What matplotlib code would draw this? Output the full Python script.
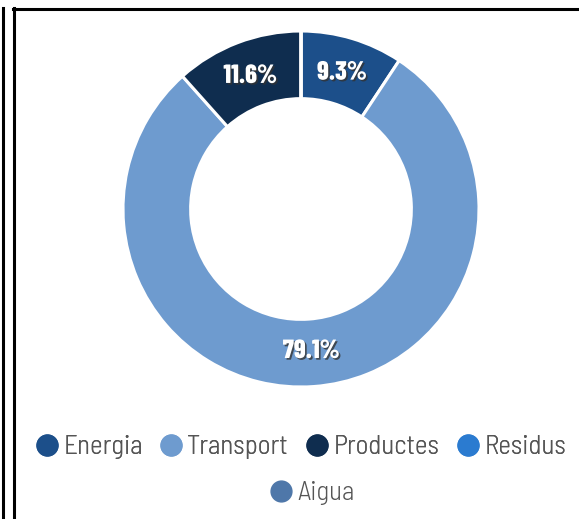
import matplotlib.pyplot as plt
import matplotlib.patheffects as pe
from matplotlib.lines import Line2D

categories = ["Energia", "Transport", "Productes", "Residus", "Aigua"]
values = [9.3, 79.1, 11.6, 0.0, 0.0]
colors = ["#1c4f8a", "#6e9bcf", "#0f2d4f", "#2b7bd0", "#4e77a9"]

W, H = 579, 519
fig = plt.figure(figsize=(W / 100, H / 100), dpi=100)


def fx(px):
    return px / W


def fy(py):
    return 1 - py / H


# frame lines like the screenshot
fig.add_artist(Line2D([fx(2.5), fx(2.5)], [fy(8), fy(519)], color="black", lw=2.2))
fig.add_artist(Line2D([fx(14), fx(14)], [fy(8), fy(519)], color="black", lw=2.2))
fig.add_artist(Line2D([fx(13), fx(579)], [fy(9), fy(9)], color="black", lw=2.2))

# donut
cx, cy, R = 301, 209, 178
ax = fig.add_axes([fx(cx - R), fy(cy + R), 2 * R / W, 2 * R / H])
label_fx = [pe.withSimplePatchShadow(offset=(1.2, -1.2), shadow_rgbFace="#333333", alpha=0.8)]


def fmt(p):
    return f"{p:.1f}%" if p > 0.05 else ""


wedges, texts, autotexts = ax.pie(
    values, colors=colors, startangle=90, counterclock=False,
    radius=1, autopct=fmt, pctdistance=0.8,
    wedgeprops=dict(width=0.38, edgecolor="white", linewidth=2.2),
    textprops=dict(color="white", fontsize=19, fontweight=800,
                   family=["Barlow Condensed", "DejaVu Sans"]),
)
for t in autotexts:
    t.set_path_effects(label_fx)
ax.set_xlim(-1, 1)
ax.set_ylim(-1, 1)
ax.set_aspect("equal")
ax.axis("off")

handles = [Line2D([], [], marker="o", linestyle="", markersize=15,
                  markerfacecolor=c, markeredgecolor=c) for c in colors]
font = dict(family=["Barlow Semi Condensed", "DejaVu Sans"], size=19.5, weight=300)

leg1 = fig.legend(handles[:4], categories[:4], loc="center", ncol=4,
                  bbox_to_anchor=(fx(301), fy(447)), frameon=False, prop=font,
                  handlelength=0.8, handletextpad=0.2, columnspacing=0.65,
                  borderpad=0, labelcolor="#555555")
leg2 = fig.legend(handles[4:], categories[4:], loc="center", ncol=1,
                  bbox_to_anchor=(fx(312), fy(493)), frameon=False, prop=font,
                  handlelength=0.8, handletextpad=0.2, borderpad=0,
                  labelcolor="#555555")
fig.add_artist(leg1)

fig.savefig("out.png", dpi=100, facecolor="white")
